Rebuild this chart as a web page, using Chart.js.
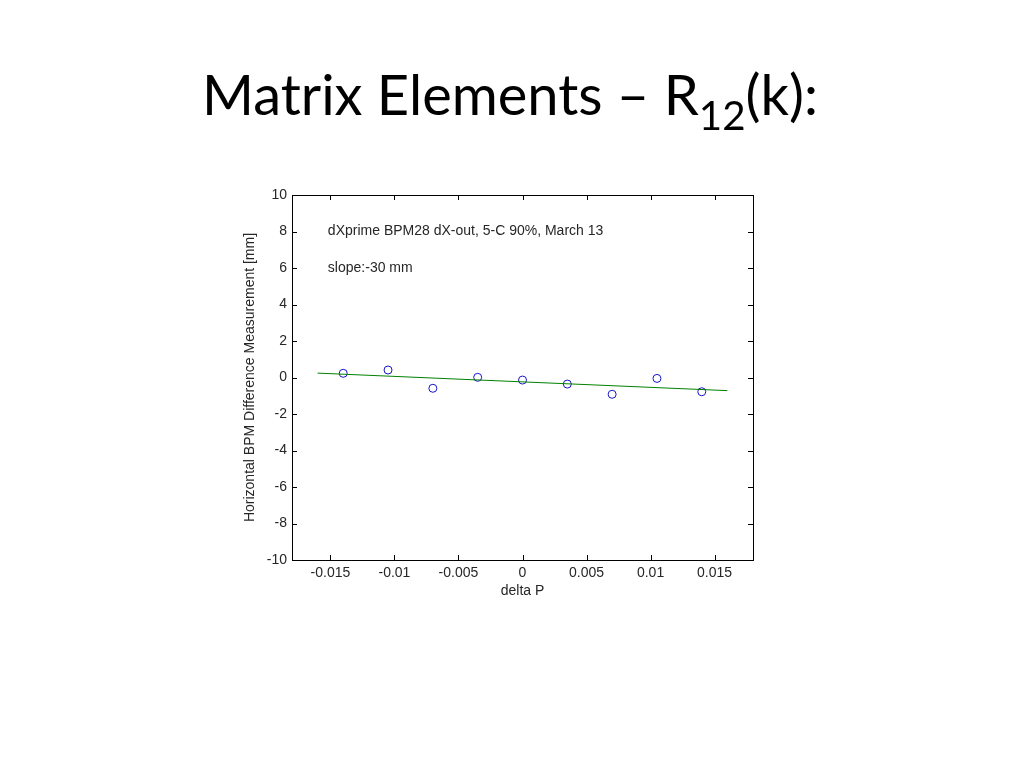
<!DOCTYPE html>
<html>
<head>
<meta charset="utf-8">
<script src="https://cdn.jsdelivr.net/npm/chart.js@4"></script>
<style>
  body { margin: 0; background: #fff; }
  #title {
    position: absolute; left: 0; top: 60px; width: 1020px;
    text-align: center; font-family: Lato, "Open Sans", sans-serif;
    font-size: 56px; color: #000; white-space: nowrap;
  }
  #title sub { font-size: 0.72em; vertical-align: -0.38em; line-height: 0; }
  canvas { position: absolute; left: 0; top: 0; }
</style>
</head>
<body>
<canvas id="myChart" width="1024" height="768"></canvas>
<div id="title">Matrix Elements – R<sub>12</sub>(k):</div>
<script>
// measured points (delta P vs BPM difference in mm)
const deltaP = [-0.014, -0.0105, -0.007, -0.0035, 0, 0.0035, 0.007, 0.0105, 0.014];
const bpmDiff = [0.23, 0.41, -0.59, 0.01, -0.14, -0.36, -0.92, -0.05, -0.78];
// linear fit, slope -30 mm
const fitX = [-0.016, 0.016];
const fitY = [0.24, -0.72];
const xTicks = [-0.015, -0.01, -0.005, 0, 0.005, 0.01, 0.015];
const yTicks = [-10, -8, -6, -4, -2, 0, 2, 4, 6, 8, 10];
const notes = ['dXprime BPM28 dX-out, 5-C 90%, March 13', 'slope:-30 mm'];

const FONT = 'Liberation Sans, Arial, sans-serif';
const INK = '#262626';

// matlab style box: frame + inward ticks on all four sides, plus text notes
const boxPlugin = {
  id: 'box',
  afterDatasetsDraw(chart) {
    const {ctx, chartArea: a, scales} = chart;
    const x = scales.x, y = scales.y;
    ctx.save();
    ctx.strokeStyle = '#000';
    ctx.lineWidth = 1;
    ctx.beginPath();
    xTicks.forEach(v => {
      const px = Math.round(x.getPixelForValue(v)) + 0.5;
      ctx.moveTo(px, a.bottom); ctx.lineTo(px, a.bottom - 5);
      ctx.moveTo(px, a.top); ctx.lineTo(px, a.top + 5);
    });
    yTicks.forEach(v => {
      const py = Math.round(y.getPixelForValue(v)) + 0.5;
      ctx.moveTo(a.left, py); ctx.lineTo(a.left + 5, py);
      ctx.moveTo(a.right, py); ctx.lineTo(a.right - 5, py);
    });
    ctx.stroke();
    ctx.strokeRect(Math.round(a.left) + 0.5, Math.round(a.top) + 0.5,
                   Math.round(a.right - a.left), Math.round(a.bottom - a.top));

    ctx.fillStyle = INK;
    ctx.font = '14px ' + FONT;
    ctx.textAlign = 'left';
    ctx.textBaseline = 'middle';
    ctx.fillText(notes[0], x.getPixelForValue(-0.0152), y.getPixelForValue(8));
    ctx.fillText(notes[1], x.getPixelForValue(-0.0152), y.getPixelForValue(6));
    ctx.restore();
  }
};

const ctx = document.getElementById('myChart');
new Chart(ctx, {
  type: 'scatter',
  data: {
    datasets: [{
      data: fitX.map((v, i) => ({x: v, y: fitY[i]})),
      showLine: true,
      borderColor: 'rgb(0, 128, 0)',
      borderWidth: 1,
      pointRadius: 0
    }, {
      data: deltaP.map((v, i) => ({x: v, y: bpmDiff[i]})),
      pointStyle: 'circle',
      pointRadius: 4,
      borderColor: 'rgb(20, 20, 200)',
      backgroundColor: 'rgba(0, 0, 0, 0)',
      borderWidth: 1
    }]
  },
  options: {
    responsive: false,
    animation: false,
    devicePixelRatio: 1,
    layout: {
      padding: {left: 242, right: 271, top: 195, bottom: 168}
    },
    plugins: {
      legend: {display: false},
      tooltip: {enabled: false}
    },
    scales: {
      x: {
        type: 'linear',
        min: -0.018,
        max: 0.018,
        afterBuildTicks: s => { s.ticks = xTicks.map(v => ({value: v})); },
        afterFit: s => { s.height = 40; },
        grid: {display: false, drawTicks: false},
        border: {display: false},
        ticks: {
          padding: 5,
          color: INK,
          font: {family: FONT, size: 14},
          callback: v => String(v)
        },
        title: {
          display: true,
          text: 'delta P',
          color: INK,
          padding: 0,
          font: {family: FONT, size: 14}
        }
      },
      y: {
        min: -10,
        max: 10,
        afterBuildTicks: s => { s.ticks = yTicks.map(v => ({value: v})); },
        afterFit: s => { s.width = 50; },
        grid: {display: false, drawTicks: false},
        border: {display: false},
        ticks: {
          padding: 5,
          color: INK,
          font: {family: FONT, size: 14},
          callback: v => String(v)
        },
        title: {
          display: true,
          text: 'Horizontal BPM Difference Measurement [mm]',
          color: INK,
          padding: 0,
          font: {family: FONT, size: 14}
        }
      }
    }
  },
  plugins: [boxPlugin]
});
</script>
</body>
</html>
